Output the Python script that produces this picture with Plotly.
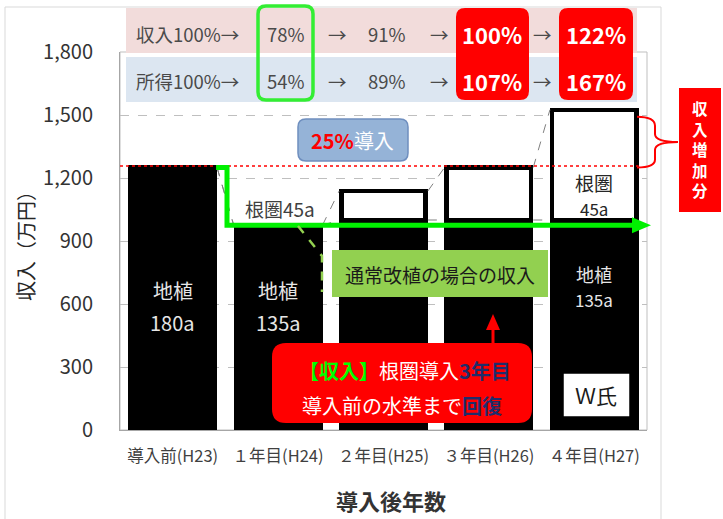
import plotly.graph_objects as go

# ---- data -------------------------------------------------------------
categories = ["導入前(H23)", "１年目(H24)", "２年目(H25)", "３年目(H26)", "４年目(H27)"]
ground = [1250, 975, 1000, 1000, 1000]   # 地植 portion of income (万円)
root = [0, 0, 138, 250, 525]             # 根圏 portion of income (万円)
income_row = ["収入100%→", "78%", "→", "91%", "→", "100%", "→", "122%"]
earnings_row = ["所得100%→", "54%", "→", "89%", "→", "107%", "→", "167%"]
y_ticks = [0, 300, 600, 900, 1200, 1500, 1800]
y_max = 1800

FONT = "Noto Sans CJK JP"
GRAY_TXT = "#404040"

# ---- plot-area geometry (pixels) -------------------------------------
W, H = 723, 519
L, R, T, B = 120, 647, 52, 430
BARGAP = 0.2
n = len(categories)
slot = (R - L) / n


def px(x):
    return (x - L) / (R - L)


def py(y):
    return (B - y) / (B - T)


def xc(i):
    return L + (i + 0.5) * slot


def yv(v):
    return B - v * (B - T) / y_max


def pt(x, y):
    return f"{px(x):.5f},{py(y):.5f}"


def rrect(x0, y0, x1, y1, r):
    return (f"M{pt(x0 + r, y0)} L{pt(x1 - r, y0)} Q{pt(x1, y0)} {pt(x1, y0 + r)} "
            f"L{pt(x1, y1 - r)} Q{pt(x1, y1)} {pt(x1 - r, y1)} L{pt(x0 + r, y1)} "
            f"Q{pt(x0, y1)} {pt(x0, y1 - r)} L{pt(x0, y0 + r)} Q{pt(x0, y0)} {pt(x0 + r, y0)} Z")


total = [g + r for g, r in zip(ground, root)]
half = (1 - BARGAP) / 2 * slot + 2.2    # half bar width incl. outline

fig = go.Figure()
fig.add_trace(go.Bar(x=categories, y=ground, name="地植",
                     marker=dict(color="black", line=dict(color="black", width=4.5))))
fig.add_trace(go.Bar(x=categories, y=root, name="根圏",
                     marker=dict(color="white", line=dict(color="black", width=4.5))))

shapes = []
annos = []


def text(x, y, s, size, color=GRAY_TXT, xanchor="center", bold=False):
    annos.append(dict(xref="paper", yref="paper", x=px(x), y=py(y), text=(f"<b>{s}</b>" if bold else s),
                      showarrow=False, xanchor=xanchor, yanchor="middle",
                      font=dict(family=FONT, size=size, color=color)))


# outer chart border and plot border
shapes.append(dict(type="rect", xref="paper", yref="paper", x0=px(5), y0=py(7), x1=px(661), y1=py(530),
                   line=dict(color="#D9D9D9", width=1), layer="below"))
shapes.append(dict(type="rect", xref="paper", yref="paper", x0=0, y0=0, x1=1, y1=1,
                   line=dict(color="#BFBFBF", width=1), layer="below"))

# series lines between bar tops
for series_top in (total, ground):
    for i in range(n - 1):
        a, b = series_top[i], series_top[i + 1]
        shapes.append(dict(type="line", xref="paper", yref="paper",
                           x0=px(xc(i) + half), y0=py(yv(a)), x1=px(xc(i + 1) - half), y1=py(yv(b)),
                           line=dict(color="#7F7F7F", width=1, dash="dash")))

# red dotted line at the pre-introduction income level
shapes.append(dict(type="line", xref="paper", yref="paper", x0=0, y0=py(yv(total[0]) - 1.5),
                   x1=px(xc(4) + half), y1=py(yv(total[0]) - 1.5),
                   line=dict(color="#FF0000", width=1.5, dash="dot")))

# header rows
shapes.append(dict(type="rect", xref="paper", yref="paper", x0=px(126), y0=py(8), x1=px(637), y1=py(53),
                   fillcolor="#F2DCDB", line=dict(width=0)))
shapes.append(dict(type="rect", xref="paper", yref="paper", x0=px(126), y0=py(57), x1=px(637), y1=py(102),
                   fillcolor="#DCE6F1", line=dict(width=0)))
for x0, x1 in ((456, 529), (559, 633)):
    shapes.append(dict(type="path", xref="paper", yref="paper", path=rrect(x0, 8, x1, 100, 9),
                       fillcolor="#FF0000", line=dict(width=0)))
shapes.append(dict(type="path", xref="paper", yref="paper", path=rrect(258, 6, 313, 100, 8),
                   fillcolor="rgba(0,0,0,0)", line=dict(color="#33EE33", width=3.5)))

cols = [134, 286, 337, 387, 439, 492, 542, 596]
for k, (a, b) in enumerate(zip(income_row, earnings_row)):
    anchor = "left" if k == 0 else "center"
    if k in (5, 7):
        text(cols[k], 34, a, 22, "white", anchor, bold=True)
        text(cols[k], 81, b, 22, "white", anchor, bold=True)
    else:
        text(cols[k], 34, a, 18.5, "#4A4A4A", anchor)
        text(cols[k], 81, b, 18.5, "#4A4A4A", anchor)

# 25% 導入 badge
shapes.append(dict(type="path", xref="paper", yref="paper", path=rrect(298, 119, 408, 161, 8),
                   fillcolor="#95B3D7", line=dict(color="#6F8FBF", width=1.5)))
text(352, 140, "<span style='color:#FF0000'><b>25%</b></span><span style='color:white'>導入</span>", 20)

# green line: income level with normal replanting
g_hi, g_lo = yv(total[0]), yv(ground[1])
shapes.append(dict(type="path", xref="paper", yref="paper",
                   path=f"M{pt(xc(0) + half - 1, g_hi)} L{pt(227, g_hi)} L{pt(227, g_lo)} L{pt(634, g_lo)}",
                   line=dict(color="#00F000", width=5)))
shapes.append(dict(type="path", xref="paper", yref="paper",
                   path=f"M{pt(632, g_lo - 8)} L{pt(651, g_lo)} L{pt(632, g_lo + 8)} Z",
                   fillcolor="#00F000", line=dict(width=0)))

# callout for normal replanting
shapes.append(dict(type="path", xref="paper", yref="paper",
                   path=f"M{pt(298, 226)} L{pt(322, 256)} L{pt(322, 292)}",
                   line=dict(color="#92D050", width=2.5, dash="dash")))
shapes.append(dict(type="rect", xref="paper", yref="paper", x0=px(332), y0=py(250), x1=px(548), y1=py(297),
                   fillcolor="#92D050", line=dict(width=0)))
text(440, 274, "通常改植の場合の収入", 19, "#1A1A1A")

# red recovery callout with arrow
shapes.append(dict(type="path", xref="paper", yref="paper", path=rrect(272, 343, 532, 423, 14),
                   fillcolor="#FF0000", line=dict(width=0)))
shapes.append(dict(type="line", xref="paper", yref="paper", x0=px(493), y0=py(344), x1=px(493), y1=py(328),
                   line=dict(color="#FF0000", width=3)))
shapes.append(dict(type="path", xref="paper", yref="paper",
                   path=f"M{pt(486, 330)} L{pt(493, 314)} L{pt(500, 330)} Z",
                   fillcolor="#FF0000", line=dict(width=0)))
text(405, 370, "<span style='color:#00FF00'><b>【収入】</b></span>"
               "<span style='color:white'>根圏導入</span>"
               "<span style='color:#1F2D6B'><b>3年目</b></span>", 20)
text(402, 405, "<span style='color:white'>導入前の水準まで</span>"
               "<span style='color:#1F2D6B'><b>回復</b></span>", 20)

# bar labels
text(xc(0), 290, "地植", 20, "#E6E6E6")
text(xc(0), 322, "180a", 20, "#E6E6E6")
text(xc(1), 290, "地植", 20, "#E6E6E6")
text(xc(1), 322, "135a", 20, "#E6E6E6")
text(xc(4), 274, "地植", 18, "#E6E6E6")
text(xc(4), 299, "135a", 17, "#E6E6E6")
text(xc(4), 183, "根圏", 19, "#262626")
text(xc(4), 208, "45a", 17, "#262626")
text(280, 208, "根圏45a", 19, GRAY_TXT)

# W氏 tag
shapes.append(dict(type="rect", xref="paper", yref="paper", x0=px(563), y0=py(373), x1=px(630), y1=py(417),
                   fillcolor="white", line=dict(color="black", width=1.5)))
text(596, 395, "Ｗ氏", 21, "#1A1A1A")

# income increase bracket and label
top5 = yv(total[4])
shapes.append(dict(type="path", xref="paper", yref="paper",
                   path=(f"M{pt(637, top5 + 7)} Q{pt(655, top5 + 7)} {pt(655, top5 + 16)} L{pt(655, 134)} "
                         f"Q{pt(655, 142)} {pt(678, 142)} Q{pt(655, 142)} {pt(655, 150)} "
                         f"L{pt(655, g_hi - 8)} Q{pt(655, g_hi)} {pt(637, g_hi)}"),
                   line=dict(color="#FF0000", width=2)))
shapes.append(dict(type="rect", xref="paper", yref="paper", x0=px(679), y0=py(88), x1=px(721), y1=py(212),
                   fillcolor="#FF0000", line=dict(width=0)))
for k, ch in enumerate("収入増加分"):
    text(700, 108 + k * 20.5, ch, 15.5, "white", bold=True)

# axis titles
annos.append(dict(xref="paper", yref="paper", x=px(25), y=py(241), text="収入（万円）", textangle=-90,
                  showarrow=False, xanchor="center", yanchor="middle",
                  font=dict(family=FONT, size=20, color="#262626")))
text(391, 500, "<b>導入後年数</b>", 22, "#333333")

fig.update_layout(
    width=W, height=H, barmode="stack", bargap=BARGAP, showlegend=False,
    margin=dict(l=L, r=W - R, t=T, b=H - B, pad=0),
    paper_bgcolor="white", plot_bgcolor="white",
    font=dict(family=FONT, color=GRAY_TXT),
    shapes=shapes, annotations=annos,
    xaxis=dict(showline=True, linecolor="#A6A6A6", linewidth=1, ticks="", ticklabelstandoff=11,
               tickfont=dict(family=FONT, size=16.5, color=GRAY_TXT), showgrid=False, fixedrange=True),
    yaxis=dict(range=[0, y_max], tickvals=y_ticks, tickformat=",d", showline=True, linecolor="#A6A6A6",
               linewidth=1, ticks="", ticklabelstandoff=22,
               tickfont=dict(family=FONT, size=20, color="#333333"),
               showgrid=True, gridcolor="#BFBFBF", griddash="dash", gridwidth=1, zeroline=False),
)

fig.write_html("out.html")
